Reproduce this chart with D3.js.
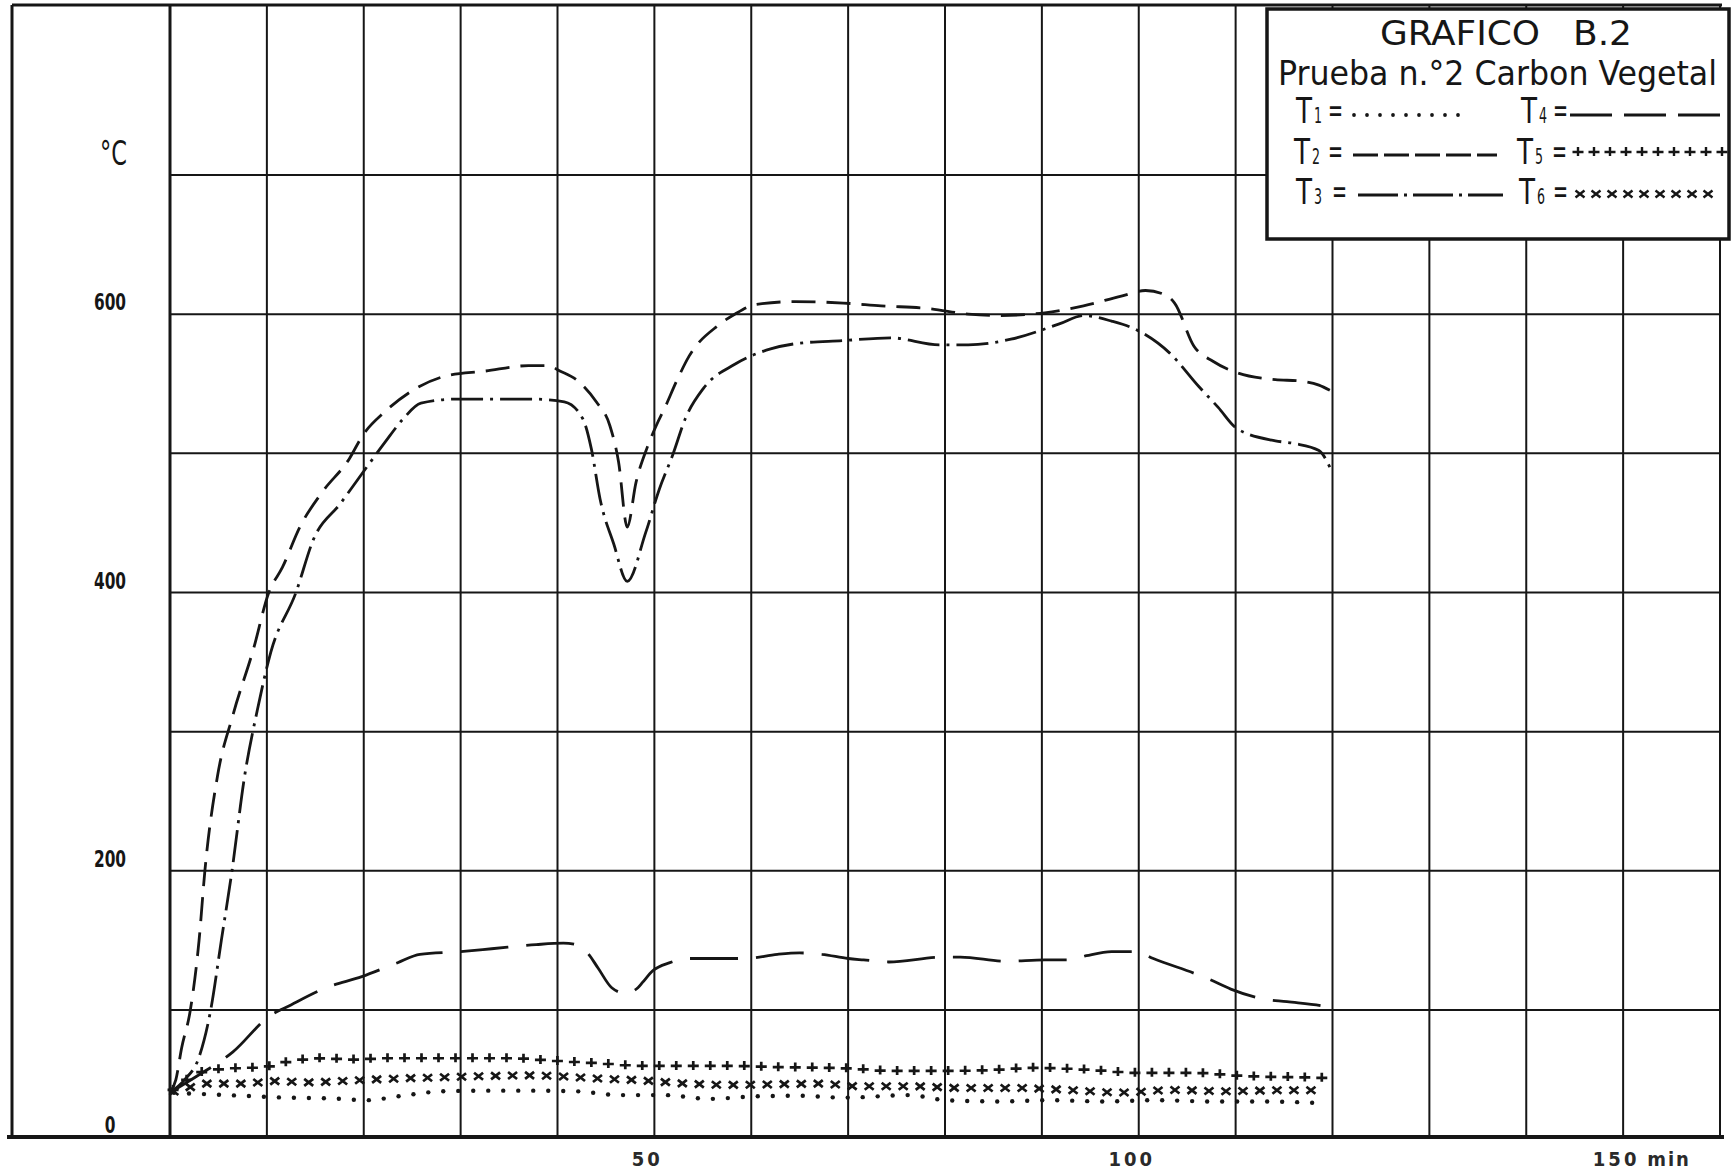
<!DOCTYPE html>
<html><head><meta charset="utf-8">
<script src="https://cdn.jsdelivr.net/npm/d3@7"></script>
<style>
html,body{margin:0;padding:0;background:#fff;}
svg{display:block;}
</style></head>
<body>
<svg id="chart" width="1732" height="1174"></svg>
<script>
// ---------------- DATA (minutes, °C) ----------------
const t1Min = [0, 2.8, 7.4, 12.0, 16.6, 20.3, 24.0, 28.1, 32.7, 37.3, 41.9, 46.5, 51.1, 55.7, 60.3, 64.9, 69.6, 76.4, 80.0, 85.5, 90.9, 96.4, 101.8, 107.3, 112.7, 118.9];
const t1Val = [35, 34, 32.5, 31, 30.4, 29, 32.5, 36, 36.5, 36.5, 36, 33, 33, 30, 32, 32.5, 31, 33, 29, 28, 29, 28, 29, 28, 28, 26.7];

const t2Min = [0, 0.6, 1.2, 2.1, 3.0, 3.6, 4.9, 6.5, 8.6, 10.2, 11.6, 13.4, 15.7, 18.5, 19.9, 22.2, 25.0, 28.7, 32.4, 37.0, 39.0, 40.3, 42.1, 44.0, 45.4, 46.3, 47.2, 48.1, 49.3, 50.2, 51.1, 52.3, 53.6, 56.6, 58.3, 60.5, 64.5, 69.5, 73.4, 78.4, 82.4, 85.3, 90.3, 94.3, 98.2, 100.7, 102.7, 103.7, 105.7, 107.7, 110.1, 114.1, 116.6, 118.6, 119.8];
const t2Val = [35, 45, 70, 100, 150, 200, 268, 312, 359, 400, 418, 447, 472, 496, 513, 530, 545, 556, 559, 563, 563, 559, 552, 537, 520, 494, 447, 479, 505, 520, 533, 552, 570, 592, 600, 607, 609, 608, 606, 604, 600, 599, 601, 606, 613, 617, 614, 608, 577, 566, 558, 553, 552, 549, 545];

const t3Min = [0, 1.5, 3.0, 4.2, 5.3, 6.4, 7.7, 9.0, 10.4, 13.0, 14.8, 17.6, 20.4, 22.2, 24.1, 25.9, 29.6, 34.3, 37.5, 40.7, 42.6, 43.5, 44.4, 45.8, 47.2, 49.1, 50.5, 51.9, 53.2, 55.1, 58.3, 62.0, 64.8, 69.5, 74.4, 79.4, 82.4, 86.8, 91.8, 94.3, 97.2, 99.7, 103.2, 106.2, 108.2, 110.1, 114.1, 116.1, 118.6, 119.8];
const t3Val = [35, 45, 63, 100, 150, 200, 268, 315, 357, 400, 438, 464, 491, 508, 525, 536, 539, 539, 539, 537, 525, 503, 467, 435, 408, 443, 474, 499, 525, 547, 564, 575, 579, 581, 583, 578, 578, 582, 593, 599, 595, 589, 572, 548, 533, 518, 509, 507, 502, 489];

const t4Min = [0, 2.8, 6.5, 10.4, 12.0, 16.1, 19.8, 23.5, 25.8, 30.0, 33.2, 37.8, 40.6, 41.9, 43.1, 44.2, 45.6, 47.0, 48.3, 48.8, 49.8, 51.6, 53.5, 56.2, 59.4, 62.7, 65.0, 67.3, 70.0, 71.6, 74.2, 79.7, 81.6, 86.3, 90.3, 92.8, 94.6, 97.2, 99.7, 101.5, 107.3, 109.5, 112.8, 115.3, 118.9, 119.6];
const t4Val = [35, 48, 67, 96, 102, 116, 124, 134, 140, 142, 144, 147, 148, 147, 141, 130, 116, 112, 116, 120, 128, 134, 137, 137, 137, 140, 141, 140, 137, 136, 134.5, 138, 138, 135, 136, 136, 139, 142, 142, 137, 122, 115, 108, 106, 103, 102];

const t5Min = [0, 1.5, 3.7, 6.5, 9.7, 12.0, 15.7, 18.9, 22.1, 25.8, 30.4, 35.0, 39.6, 44.2, 48.8, 53.5, 58.0, 62.7, 67.3, 70.0, 74.6, 80.0, 85.5, 89.1, 94.6, 100.0, 105.5, 110.9, 116.4, 119.3];
const t5Val = [35, 44, 52, 54, 55, 59, 62, 61, 62, 62, 62, 62, 60, 58, 56, 56, 56, 55, 54.5, 54, 52, 52, 53, 54.5, 53, 50.5, 50.5, 48, 47, 46.5];

const t6Min = [0, 1.5, 3.7, 7.4, 11.0, 14.3, 18.9, 23.5, 28.1, 32.7, 37.3, 39.6, 44.2, 48.8, 53.5, 58.0, 62.7, 67.3, 70.9, 76.4, 81.8, 87.3, 92.7, 98.2, 103.6, 109.1, 114.5, 119.3];
const t6Val = [35, 38, 42, 42, 44, 43, 44.5, 46, 47, 48, 48.5, 48, 46, 44.5, 42, 41, 41.5, 42, 40, 40, 38.6, 38.6, 37, 35, 37, 36, 36.8, 36.8];

const seriesNames = ["T1", "T2", "T3", "T4", "T5", "T6"];
const xTicks = [50, 100, 150];
const xTickLabels = ["50", "100", "150"];
const xUnit = "min";
const yTicks = [0, 200, 400, 600];
const yTickLabels = ["0", "200", "400", "600"];
const yUnit = "°C";
const titleWords = ["GRAFICO", "B.2"];
const subtitle = "Prueba n.°2 Carbon Vegetal";

// ---------------- LAYOUT ----------------
const svg = d3.select("#chart");
const INK = "#161616";
const FONT = "'DejaVu Sans Condensed','DejaVu Sans',sans-serif";
svg.append("rect").attr("width", 1732).attr("height", 1174).attr("fill", "#fff");

const x = d3.scaleLinear().domain([0, 160]).range([170, 1720]);
const y = d3.scaleLinear().domain([0, 100, 700]).range([1137, 1010, 175]);
const frameTop = 5, frameLeft = 12;

const xGrid = d3.range(0, 161, 10);
const yGrid = d3.range(100, 701, 100);

const gGrid = svg.append("g");
gGrid.selectAll("line.v").data(xGrid).join("line").attr("class", "v")
  .attr("x1", d => x(d)).attr("x2", d => x(d))
  .attr("y1", frameTop).attr("y2", y(0))
  .attr("stroke", INK).attr("stroke-width", d => d === 0 ? 3 : 2);
gGrid.selectAll("line.h").data(yGrid).join("line").attr("class", "h")
  .attr("x1", x(0)).attr("x2", x(160))
  .attr("y1", d => y(d)).attr("y2", d => y(d))
  .attr("stroke", INK).attr("stroke-width", 2);

// frame
gGrid.append("line").attr("x1", frameLeft).attr("x2", x(160) + 2).attr("y1", frameTop).attr("y2", frameTop)
  .attr("stroke", INK).attr("stroke-width", 3);
gGrid.append("line").attr("x1", frameLeft).attr("x2", frameLeft).attr("y1", frameTop).attr("y2", y(0))
  .attr("stroke", INK).attr("stroke-width", 3);
gGrid.append("line").attr("x1", frameLeft - 5).attr("x2", x(160) + 4).attr("y1", y(0)).attr("y2", y(0))
  .attr("stroke", INK).attr("stroke-width", 4);

// y tick labels
svg.append("g").selectAll("text").data(yTicks).join("text")
  .attr("x", 110).attr("y", d => y(d) - 4)
  .attr("text-anchor", "middle")
  .attr("font-family", FONT).attr("font-weight", "bold").attr("font-size", 23)
  .attr("textLength", (d, i) => yTickLabels[i].length * 10.7).attr("lengthAdjust", "spacingAndGlyphs")
  .attr("fill", INK).text((d, i) => yTickLabels[i]);
svg.append("text").attr("x", 100).attr("y", 165)
  .attr("font-family", FONT).attr("font-size", 34)
  .attr("textLength", 27).attr("lengthAdjust", "spacingAndGlyphs")
  .attr("fill", INK).text(yUnit);

// x tick labels
const XFONT = "'DejaVu Sans Condensed','DejaVu Sans',sans-serif";
svg.append("g").selectAll("text").data(xTicks).join("text")
  .attr("x", d => x(d) - 7).attr("y", 1166)
  .attr("text-anchor", "middle")
  .attr("font-family", XFONT).attr("font-size", 20).attr("font-weight", 600)
  .attr("letter-spacing", 3)
  .attr("fill", "#2a2a2a").text((d, i) => xTickLabels[i]);
svg.append("text").attr("x", x(150) + 24).attr("y", 1166)
  .attr("font-family", XFONT).attr("font-size", 20).attr("font-weight", 600)
  .attr("letter-spacing", 2).attr("fill", "#2a2a2a").text(xUnit);

// ---------------- SERIES ----------------
const styles = {
  T1: {type: "dots", spacing: 15, r: 2.2},
  T2: {type: "line", dash: "24,11"},
  T3: {type: "line", dash: "32,7,3,7"},
  T4: {type: "line", dash: "48,18"},
  T5: {type: "plus", spacing: 17},
  T6: {type: "cross", spacing: 17}
};
const seriesData = {
  T1: d3.zip(t1Min, t1Val), T2: d3.zip(t2Min, t2Val), T3: d3.zip(t3Min, t3Val),
  T4: d3.zip(t4Min, t4Val), T5: d3.zip(t5Min, t5Val), T6: d3.zip(t6Min, t6Val)
};
const lineGen = d3.line().x(d => x(d[0])).y(d => y(d[1])).curve(d3.curveMonotoneX);

function markPath(type, px, py) {
  if (type === "plus") return `M${px - 5.5},${py}H${px + 5.5}M${px},${py - 5}V${py + 4}`;
  if (type === "cross") return `M${px - 4.5},${py - 3.5}L${px + 4.5},${py + 3.5}M${px - 4.5},${py + 3.5}L${px + 4.5},${py - 3.5}`;
  return "";
}

const gSeries = svg.append("g");
seriesNames.forEach(name => {
  const st = styles[name];
  const p = gSeries.append("path").datum(seriesData[name])
    .attr("d", lineGen).attr("fill", "none");
  if (st.type === "line") {
    p.attr("stroke", INK).attr("stroke-width", 2.8).attr("stroke-dasharray", st.dash);
  } else {
    p.attr("stroke", "none");
    const node = p.node();
    const L = node.getTotalLength();
    const pts = d3.range(4, L, st.spacing).map(s => node.getPointAtLength(s));
    if (st.type === "dots") {
      gSeries.append("g").selectAll("circle").data(pts).join("circle")
        .attr("cx", d => d.x).attr("cy", d => d.y).attr("r", st.r).attr("fill", INK);
    } else {
      gSeries.append("g").selectAll("path").data(pts).join("path")
        .attr("d", d => markPath(st.type, d.x, d.y))
        .attr("stroke", INK).attr("stroke-width", 2.7).attr("fill", "none");
    }
  }
});

// ---------------- LEGEND ----------------
const lg = svg.append("g");
lg.append("rect").attr("x", 1267).attr("y", 9).attr("width", 462).attr("height", 230)
  .attr("fill", "#fff").attr("stroke", INK).attr("stroke-width", 3.5);
lg.append("text").attr("x", 1380).attr("y", 45).attr("font-family", FONT).attr("font-size", 34)
  .attr("textLength", 160).attr("lengthAdjust", "spacingAndGlyphs").attr("fill", INK).text(titleWords[0]);
lg.append("text").attr("x", 1573).attr("y", 45).attr("font-family", FONT).attr("font-size", 34)
  .attr("textLength", 59).attr("lengthAdjust", "spacingAndGlyphs").attr("fill", INK).text(titleWords[1]);
lg.append("text").attr("x", 1278).attr("y", 85).attr("font-family", FONT).attr("font-size", 34)
  .attr("textLength", 439).attr("lengthAdjust", "spacingAndGlyphs").attr("fill", INK).text(subtitle);

const legendLayout = {
  T1: {tx: 1296, eq: 1328, x0: 1354, x1: 1467, base: 123, ly: 115},
  T2: {tx: 1294, eq: 1328, x0: 1353, x1: 1497, base: 164, ly: 155},
  T3: {tx: 1296, eq: 1332, x0: 1358, x1: 1503, base: 204, ly: 195},
  T4: {tx: 1521, eq: 1553, x0: 1570, x1: 1725, base: 123, ly: 115},
  T5: {tx: 1517, eq: 1552, x0: 1578, x1: 1722, base: 164, ly: 152},
  T6: {tx: 1519, eq: 1553, x0: 1580, x1: 1723, base: 204, ly: 194}
};
const legendDash = {T2: "25,6", T3: "40,6,3,6", T4: "42,12"};

seriesNames.forEach(name => {
  const L = legendLayout[name], st = styles[name];
  lg.append("text").attr("x", L.tx).attr("y", L.base).attr("font-family", FONT).attr("font-size", 36)
    .attr("textLength", 16).attr("lengthAdjust", "spacingAndGlyphs").attr("fill", INK).text(name[0]);
  lg.append("text").attr("x", L.tx + 18).attr("y", L.base).attr("font-family", FONT).attr("font-size", 21)
    .attr("textLength", 8).attr("lengthAdjust", "spacingAndGlyphs").attr("fill", INK).text(name.slice(1));
  lg.append("text").attr("x", L.eq).attr("y", L.base - 1).attr("font-family", FONT).attr("font-size", 34)
    .attr("textLength", 15).attr("lengthAdjust", "spacingAndGlyphs").attr("fill", INK).text("=");
  if (st.type === "line") {
    lg.append("line").attr("x1", L.x0).attr("x2", L.x1).attr("y1", L.ly).attr("y2", L.ly)
      .attr("stroke", INK).attr("stroke-width", 2.8).attr("stroke-dasharray", legendDash[name]);
  } else if (st.type === "dots") {
    lg.append("g").selectAll("circle").data(d3.range(L.x0, L.x1 + 1, 13)).join("circle")
      .attr("cx", d => d).attr("cy", L.ly).attr("r", 1.9).attr("fill", INK);
  } else {
    lg.append("g").selectAll("path").data(d3.range(L.x0, L.x1 + 1, 16)).join("path")
      .attr("d", d => markPath(st.type, d, L.ly))
      .attr("stroke", INK).attr("stroke-width", 2.4).attr("fill", "none");
  }
});
</script>
</body></html>
